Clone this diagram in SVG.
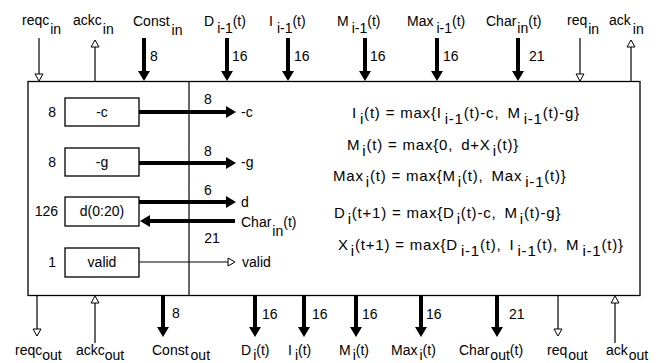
<svg xmlns="http://www.w3.org/2000/svg" width="668" height="363" viewBox="0 0 668 363">
<defs>
<style>
text{font-family:"Liberation Sans",Arial,sans-serif;font-size:14px;fill:#000}
.eq text{font-size:15px;letter-spacing:0.8px}
.ctr{text-anchor:middle}
.end{text-anchor:end}
.box{fill:#fff;stroke:#000;stroke-width:1.3}
.thick{stroke:#000;stroke-width:4;fill:none}
.thin{stroke:#000;stroke-width:1.2;fill:none}
.ta{marker-end:url(#ah)}
.oa{marker-end:url(#oh)}
</style>
<marker id="ah" viewBox="0 -6 10 12" refX="0" refY="0" markerWidth="10" markerHeight="12" markerUnits="userSpaceOnUse" orient="auto"><path d="M0,-6 L10,0 L0,6 z" fill="#000"/></marker>
<marker id="oh" viewBox="-1 -5 9 10" refX="0" refY="0" markerWidth="9" markerHeight="10" markerUnits="userSpaceOnUse" orient="auto"><path d="M0,-4 L7,0 L0,4 z" fill="#fff" stroke="#000" stroke-width="1"/></marker>
</defs>
<rect width="668" height="363" fill="#fff"/>

<g id="block">
<rect class="box" x="28" y="81.5" width="612" height="214"/>
<line class="thin" x1="189" y1="81.5" x2="189" y2="295.5"/>
</g>

<g id="reg-c"><rect class="box" x="65" y="98" width="74" height="28"/><text class="ctr" x="102" y="117">-c</text><text class="end" x="56" y="117">8</text></g>
<g id="reg-g"><rect class="box" x="65" y="148" width="74" height="28"/><text class="ctr" x="102" y="167">-g</text><text class="end" x="56" y="167">8</text></g>
<g id="reg-d"><rect class="box" x="65" y="197" width="74" height="29"/><text class="ctr" x="102" y="216">d(0:20)</text><text class="end" x="58" y="216">126</text></g>
<g id="reg-valid"><rect class="box" x="65" y="248" width="74" height="29"/><text class="ctr" x="102" y="267">valid</text><text class="end" x="56" y="267">1</text></g>

<g id="equations" class="eq">
<text x="352" y="118">I<tspan dx="3" dy="6">i</tspan><tspan dy="-6">(t) = max{I</tspan><tspan dx="3" dy="6">i-1</tspan><tspan dy="-6">(t)-c,</tspan><tspan dx="8">M</tspan><tspan dx="3" dy="6">i-1</tspan><tspan dy="-6">(t)-g}</tspan></text>
<text x="347" y="150">M<tspan dx="2" dy="6">i</tspan><tspan dy="-6">(t) = max{0,</tspan><tspan dx="8">d+X</tspan><tspan dx="2" dy="6">i</tspan><tspan dy="-6">(t)}</tspan></text>
<text x="333" y="181">Max<tspan dx="2" dy="6">i</tspan><tspan dy="-6">(t) = max{M</tspan><tspan dx="2" dy="6">i</tspan><tspan dy="-6">(t),</tspan><tspan dx="8">Max</tspan><tspan dx="3" dy="6">i-1</tspan><tspan dy="-6">(t)}</tspan></text>
<text x="334" y="218">D<tspan dx="2" dy="6">i</tspan><tspan dy="-6">(t+1) = max{D</tspan><tspan dx="2" dy="6">i</tspan><tspan dy="-6">(t)-c,</tspan><tspan dx="8">M</tspan><tspan dx="2" dy="6">i</tspan><tspan dy="-6">(t)-g}</tspan></text>
<text x="338" y="250">X<tspan dx="2" dy="6">i</tspan><tspan dy="-6">(t+1) = max{D</tspan><tspan dx="3" dy="6">i-1</tspan><tspan dy="-6">(t),</tspan><tspan dx="8">I</tspan><tspan dx="3" dy="6">i-1</tspan><tspan dy="-6">(t),</tspan><tspan dx="8">M</tspan><tspan dx="3" dy="6">i-1</tspan><tspan dy="-6">(t)}</tspan></text>
</g>

<g id="connectors">
<line class="thick ta" x1="139" y1="112" x2="226" y2="112"/>
<line class="thick ta" x1="139" y1="163" x2="226" y2="163"/>
<line class="thick ta" x1="139" y1="202" x2="226" y2="202"/>
<line class="thick ta" x1="235" y1="221" x2="150" y2="221"/>
<line class="thin oa" x1="139" y1="262" x2="228" y2="262"/>
<text class="ctr" x="208" y="104">8</text>
<text class="ctr" x="208" y="156">8</text>
<text class="ctr" x="208" y="195">6</text>
<text class="ctr" x="212" y="243">21</text>
<text x="241" y="117">-c</text>
<text x="241" y="167">-g</text>
<text x="241" y="207">d</text>
<text x="241" y="227">Char<tspan dx="1" dy="9">in</tspan><tspan dy="-9">(t)</tspan></text>
<text x="242" y="267">valid</text>

<line class="thin oa" x1="39" y1="38" x2="39" y2="74"/>
<line class="thin oa" x1="95" y1="81.5" x2="95" y2="47"/>
<line class="thick ta" x1="144" y1="38" x2="144" y2="71"/>
<line class="thick ta" x1="227" y1="38" x2="227" y2="71"/>
<line class="thick ta" x1="288" y1="38" x2="288" y2="71"/>
<line class="thick ta" x1="365" y1="38" x2="365" y2="71"/>
<line class="thick ta" x1="437" y1="38" x2="437" y2="71"/>
<line class="thick ta" x1="518" y1="38" x2="518" y2="71"/>
<line class="thin oa" x1="580" y1="38" x2="580" y2="74"/>
<line class="thin oa" x1="631" y1="81.5" x2="631" y2="47"/>
<text x="150" y="61">8</text>
<text x="232" y="61">16</text>
<text x="294" y="61">16</text>
<text x="370" y="61">16</text>
<text x="443" y="61">16</text>
<text x="529" y="61">21</text>

<line class="thin oa" x1="37" y1="295.5" x2="37" y2="329"/>
<line class="thin oa" x1="95" y1="343" x2="95" y2="303"/>
<line class="thick ta" x1="163" y1="295.5" x2="163" y2="327"/>
<line class="thick ta" x1="255" y1="295.5" x2="255" y2="327"/>
<line class="thick ta" x1="304" y1="295.5" x2="304" y2="327"/>
<line class="thick ta" x1="356" y1="295.5" x2="356" y2="327"/>
<line class="thick ta" x1="421" y1="295.5" x2="421" y2="327"/>
<line class="thick ta" x1="497" y1="295.5" x2="497" y2="327"/>
<line class="thin oa" x1="558" y1="295.5" x2="558" y2="329"/>
<line class="thin oa" x1="615" y1="343" x2="615" y2="303"/>
<text x="172" y="318">8</text>
<text x="262" y="319">16</text>
<text x="312" y="319">16</text>
<text x="362" y="319">16</text>
<text x="426" y="319">16</text>
<text x="509" y="319">21</text>
</g>

<g id="top-labels">
<text x="22" y="25">reqc<tspan dx="1" dy="9">in</tspan></text>
<text x="73" y="25">ackc<tspan dx="1" dy="9">in</tspan></text>
<text x="133" y="26">Const<tspan dx="2" dy="9">in</tspan></text>
<text x="204" y="26">D<tspan dx="3" dy="7">i-1</tspan><tspan dy="-7">(t)</tspan></text>
<text x="269" y="26">I<tspan dx="4" dy="7">i-1</tspan><tspan dy="-7">(t)</tspan></text>
<text x="337" y="26">M<tspan dx="3" dy="7">i-1</tspan><tspan dy="-7">(t)</tspan></text>
<text x="407" y="26">Max<tspan dx="3" dy="7">i-1</tspan><tspan dy="-7">(t)</tspan></text>
<text x="486" y="26">Char<tspan dx="1" dy="7">in</tspan><tspan dy="-7">(t)</tspan></text>
<text x="567" y="25">req<tspan dx="1" dy="9">in</tspan></text>
<text x="609" y="25">ack<tspan dx="2" dy="9">in</tspan></text>
</g>

<g id="bottom-labels">
<text x="15" y="355">reqc<tspan dy="5">out</tspan></text>
<text x="76" y="355">ackc<tspan dy="5">out</tspan></text>
<text x="152" y="355">Const<tspan dx="2" dy="5">out</tspan></text>
<text x="241" y="355">D<tspan dx="2" dy="5">i</tspan><tspan dy="-5">(t)</tspan></text>
<text x="288" y="355">I<tspan dx="3" dy="5">i</tspan><tspan dy="-5">(t)</tspan></text>
<text x="339" y="355">M<tspan dx="2" dy="5">i</tspan><tspan dy="-5">(t)</tspan></text>
<text x="391" y="355">Max<tspan dx="2" dy="5">i</tspan><tspan dy="-5">(t)</tspan></text>
<text x="459" y="355">Char<tspan dx="1" dy="5">out</tspan><tspan dy="-5">(t)</tspan></text>
<text x="547" y="355">req<tspan dx="1" dy="5">out</tspan></text>
<text x="606" y="355">ack<tspan dx="1" dy="5">out</tspan></text>
</g>
</svg>
